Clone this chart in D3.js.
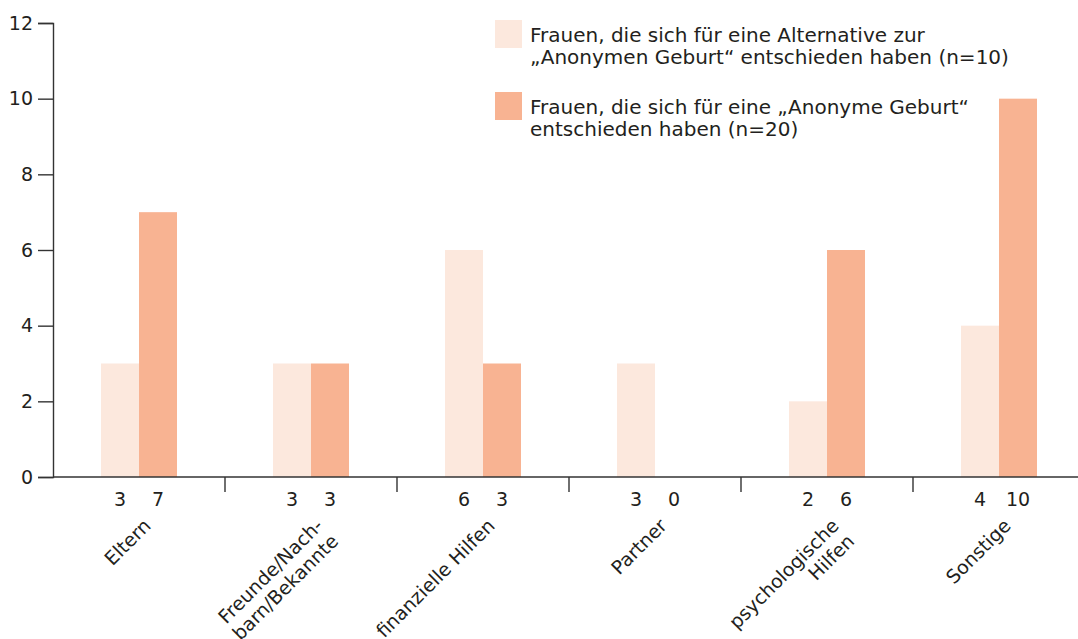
<!DOCTYPE html>
<html>
<head>
<meta charset="utf-8">
<script src="https://cdnjs.cloudflare.com/ajax/libs/d3/7.8.5/d3.min.js"></script>
<style>
  body { margin: 0; background: #fff; }
  text { font-family: "DejaVu Sans", sans-serif; fill: #231f20; }
</style>
</head>
<body>
<svg id="chart" width="1078" height="639"></svg>
<script>
var categories = [["Eltern"], ["Freunde/Nach-", "barn/Bekannte"], ["finanzielle Hilfen"], ["Partner"], ["psychologische", "Hilfen"], ["Sonstige"]];
var alternative = [3, 3, 6, 3, 2, 4];
var anonym = [7, 3, 3, 0, 6, 10];
var yTicks = [0, 2, 4, 6, 8, 10, 12];
var legendLabels = [
  ["Frauen, die sich für eine Alternative zur", "„Anonymen Geburt“ entschieden haben (n=10)"],
  ["Frauen, die sich für eine „Anonyme Geburt“", "entschieden haben (n=20)"]
];
var colors = ["#fce8dd", "#f8b392"];

var svg = d3.select("#chart");
var x0 = 53, y0 = 477;

var x = d3.scaleBand().domain(d3.range(categories.length)).range([x0, x0 + 172 * 6]);
var y = d3.scaleLinear().domain([0, 12]).range([y0, 23]);
var barW = 38;

// bars
var series = [alternative, anonym];
series.forEach(function(vals, s) {
  svg.append("g").selectAll("rect")
    .data(vals)
    .enter().append("rect")
    .attr("x", function(d, i) { return x(i) + x.bandwidth() / 2 - barW + s * barW; })
    .attr("y", function(d) { return y(d); })
    .attr("width", barW)
    .attr("height", function(d) { return y0 - y(d); })
    .attr("fill", colors[s]);
});

// y axis
var yAxis = svg.append("g")
  .attr("transform", "translate(" + x0 + ",0)")
  .call(d3.axisLeft(y).tickValues(yTicks).tickSize(15).tickPadding(5));
yAxis.select(".domain").attr("stroke", "#333").attr("stroke-width", 1.4);
yAxis.selectAll(".tick line").attr("stroke", "#333").attr("stroke-width", 1.4);
yAxis.selectAll(".tick text").attr("font-size", 19).style("font-family", "'DejaVu Sans', sans-serif").attr("fill", "#231f20");

// x axis line
svg.append("line")
  .attr("x1", x0).attr("x2", 1078)
  .attr("y1", y0).attr("y2", y0)
  .attr("stroke", "#333").attr("stroke-width", 1.4);

// group separators
svg.append("g").selectAll("line")
  .data(d3.range(1, categories.length))
  .enter().append("line")
  .attr("x1", function(i) { return x(i); })
  .attr("x2", function(i) { return x(i); })
  .attr("y1", y0).attr("y2", y0 + 15)
  .attr("stroke", "#333").attr("stroke-width", 1.4);

// value labels
series.forEach(function(vals, s) {
  svg.append("g").selectAll("text")
    .data(vals)
    .enter().append("text")
    .attr("x", function(d, i) { return x(i) + x.bandwidth() / 2 - barW / 2 + s * barW; })
    .attr("y", 506)
    .attr("text-anchor", "middle")
    .attr("font-size", 19)
    .text(function(d) { return d; });
});

// category labels
var catG = svg.append("g").selectAll("text")
  .data(categories)
  .enter().append("text")
  .attr("text-anchor", "end")
  .attr("font-size", 19)
  .attr("transform", function(d, i) {
    return "translate(" + (x(i) + x.bandwidth() / 2 + 13) + ",527) rotate(-45)";
  });
catG.selectAll("tspan")
  .data(function(d) { return d; })
  .enter().append("tspan")
  .attr("x", 0)
  .attr("dy", function(d, j) { return j === 0 ? 0 : "1.15em"; })
  .text(function(d) { return d; });

// legend
var leg = svg.append("g").selectAll("g")
  .data(legendLabels)
  .enter().append("g")
  .attr("transform", function(d, i) { return "translate(495," + (20 + i * 72) + ")"; });
leg.append("rect")
  .attr("width", 27).attr("height", 28)
  .attr("fill", function(d, i) { return colors[i]; });
leg.append("text")
  .attr("x", 35)
  .attr("y", 22)
  .attr("font-size", 20)
  .selectAll("tspan")
  .data(function(d) { return d; })
  .enter().append("tspan")
  .attr("x", 35)
  .attr("dy", function(d, j) { return j === 0 ? 0 : 22; })
  .text(function(d) { return d; });
</script>
</body>
</html>
